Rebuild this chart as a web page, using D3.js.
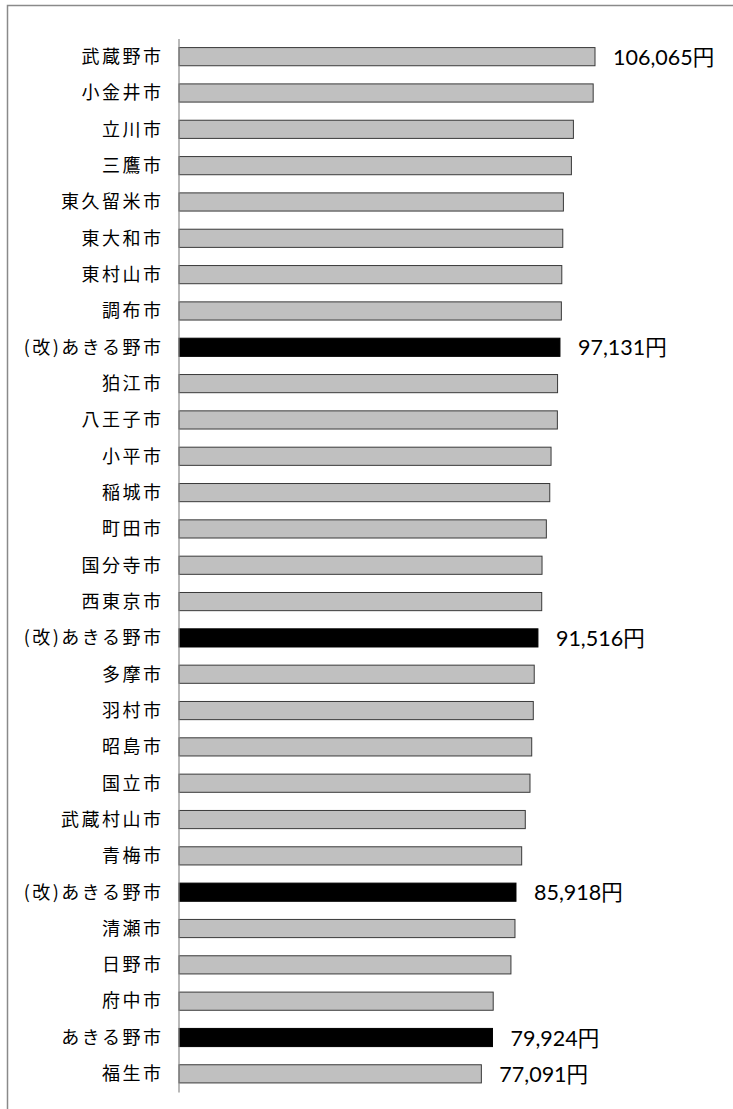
<!DOCTYPE html>
<html>
<head>
<meta charset="utf-8">
<script src="https://cdn.jsdelivr.net/npm/d3@7/dist/d3.min.js"></script>
<style>
  html, body { margin: 0; padding: 0; background: #fff; }
  svg { display: block; }
</style>
</head>
<body>
<div id="chart"></div>
<script>
const categories = [
  "武蔵野市","小金井市","立川市","三鷹市","東久留米市","東大和市","東村山市","調布市",
  "(改)あきる野市","狛江市","八王子市","小平市","稲城市","町田市","国分寺市","西東京市",
  "(改)あきる野市 ","多摩市","羽村市","昭島市","国立市","武蔵村山市","青梅市",
  "(改)あきる野市  ","清瀬市","日野市","府中市","あきる野市","福生市"
];
const values = [
  106065,105600,100560,100050,98010,97850,97600,97490,
  97131,96520,96470,94860,94530,93660,92560,92480,
  91516,90570,90330,89930,89490,88290,87370,
  85918,85660,84630,80110,79924,77091
];
const highlighted = [
  "(改)あきる野市","(改)あきる野市 ","(改)あきる野市  ","あきる野市"
];
const valueLabelled = [
  "武蔵野市","(改)あきる野市","(改)あきる野市 ","(改)あきる野市  ","あきる野市","福生市"
];

const W = 733, H = 1109;
const data = categories.map((c, i) => ({ key: c, name: c.trim(), value: values[i] }));

const svg = d3.select("#chart").append("svg")
  .attr("width", W).attr("height", H);

// outer frame (extends past right/bottom edge)
svg.append("rect")
  .attr("x", 7.5).attr("y", 5.5)
  .attr("width", 900).attr("height", 1300)
  .attr("fill", "#fff")
  .attr("stroke", "#8a8a8a").attr("stroke-width", 1.5);

const x = d3.scaleLinear().domain([0, d3.max(values)]).range([179, 595]);
const y = d3.scaleBand().domain(categories).range([38.5, 1092])
  .paddingInner(0.5).paddingOuter(0.25);

// bars
svg.append("g").selectAll("rect").data(data).join("rect")
  .attr("x", x(0))
  .attr("y", d => y(d.key))
  .attr("width", d => x(d.value) - x(0))
  .attr("height", y.bandwidth())
  .attr("fill", d => highlighted.includes(d.key) ? "#000" : "#c0c0c0")
  .attr("stroke", d => highlighted.includes(d.key) ? "#000" : "#3a3a3a")
  .attr("stroke-width", 1);

// axis (left, category)
const axis = svg.append("g")
  .attr("transform", `translate(${x(0) - 0.5},0)`)
  .call(d3.axisLeft(y).tickSize(0).tickPadding(0).tickFormat(d => d.trim()));
axis.select(".domain").attr("stroke", "#8a8a8a").attr("stroke-width", 1.2);
axis.selectAll("text")
  .attr("x", -15)
  .attr("dy", "0.35em")
  .style("font-family", "'Noto Sans CJK JP', 'Noto Sans', sans-serif")
  .style("font-size", "18px")
  .style("letter-spacing", "2.5px")
  .attr("fill", "#000");

// value labels
svg.append("g").selectAll("text")
  .data(data.filter(d => valueLabelled.includes(d.key)))
  .join("text")
  .attr("x", d => x(d.value) + 18)
  .attr("y", d => y(d.key) + y.bandwidth() / 2)
  .attr("dy", "0.38em")
  .style("font-family", "Lato, 'Noto Sans CJK JP', sans-serif")
  .style("font-size", "21.5px")
  .attr("fill", "#000")
  .text(d => d3.format(",")(d.value) + "円");
</script>
</body>
</html>
